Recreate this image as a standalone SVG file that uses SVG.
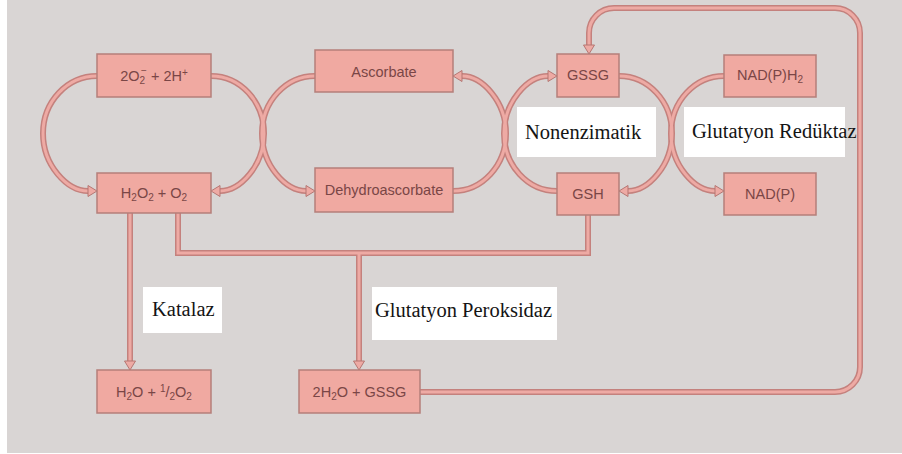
<svg xmlns="http://www.w3.org/2000/svg" width="902" height="454" viewBox="0 0 902 454">
<style>
.box{fill:#f0a9a1;stroke:#b57f7a;stroke-width:1.5}
.bt{font-family:"Liberation Sans",Arial,sans-serif;font-size:14.5px;fill:#7a4646;text-anchor:middle}
.lbl{fill:#ffffff}
.lt{font-family:"Liberation Serif","Times New Roman",serif;font-size:20.5px;fill:#141414}
.outer{fill:none;stroke:#c4817d;stroke-width:6}
.inner{fill:none;stroke:#eeaaa4;stroke-width:3}
.arr{marker-end:url(#ah)}
</style>
<defs>
<marker id="ah" markerUnits="userSpaceOnUse" markerWidth="12" markerHeight="14" viewBox="-1 -7 12 14" refX="0" refY="0" orient="auto" overflow="visible">
<path d="M0,-5.5 L9,0 L0,5.5 Z" fill="#eeaaa4" stroke="#b57773" stroke-width="1"/>
</marker>
</defs>
<rect x="0" y="0" width="902" height="454" fill="#ffffff"/>
<rect x="7" y="0" width="895" height="453" fill="#d9d5d4"/>

<g id="connectors">
<g class="outer">
<path d="M97,76 C67.2,76 43,101.7 43,133.5 C43,165.3 67.2,191 88,191"/>
<path d="M211,76 C240.3,76 264,101.7 264,133.5 C264,165.3 240.3,191 220,191"/>
<path d="M315,76 C285.7,76 262,101.7 262,133.5 C262,165.3 285.7,191 306,191"/>
<path d="M453,191 C482.3,191 506,165.3 506,133.5 C506,101.7 482.3,76 462,76"/>
<path d="M557,191 C527.7,191 504,165.3 504,133.5 C504,101.7 527.7,76 548,76"/>
<path d="M619,76 C648.3,76 672,101.7 672,133.5 C672,165.3 648.3,191 628,191"/>
<path d="M724,76 C694.7,76 671,101.7 671,133.5 C671,165.3 694.7,191 715,191"/>
<path d="M130,213 V361"/>
<path d="M178,213 V253 H588 V215"/>
<path d="M359,253 V361"/>
<path d="M420,392 H835 A25,25 0 0 0 860,367 V33 A25,25 0 0 0 835,8 H614 A25,25 0 0 0 589,33 V45"/>
</g>
<g class="inner">
<path class="arr" d="M97,76 C67.2,76 43,101.7 43,133.5 C43,165.3 67.2,191 88,191"/>
<path class="arr" d="M211,76 C240.3,76 264,101.7 264,133.5 C264,165.3 240.3,191 220,191"/>
<path class="arr" d="M315,76 C285.7,76 262,101.7 262,133.5 C262,165.3 285.7,191 306,191"/>
<path class="arr" d="M453,191 C482.3,191 506,165.3 506,133.5 C506,101.7 482.3,76 462,76"/>
<path class="arr" d="M557,191 C527.7,191 504,165.3 504,133.5 C504,101.7 527.7,76 548,76"/>
<path class="arr" d="M619,76 C648.3,76 672,101.7 672,133.5 C672,165.3 648.3,191 628,191"/>
<path class="arr" d="M724,76 C694.7,76 671,101.7 671,133.5 C671,165.3 694.7,191 715,191"/>
<path class="arr" d="M130,213 V361"/>
<path d="M178,213 V253 H588 V215"/>
<path class="arr" d="M359,253 V361"/>
<path class="arr" d="M420,392 H835 A25,25 0 0 0 860,367 V33 A25,25 0 0 0 835,8 H614 A25,25 0 0 0 589,33 V45"/>
</g>
</g>

<g id="n-superoxide">
<rect class="box" x="97" y="54" width="114" height="43"/>
<text class="bt" x="154" y="81">2O<tspan font-size="10" dy="3">2</tspan><tspan font-size="10" dx="-4" dy="-10">−</tspan><tspan dy="7"> + 2H</tspan><tspan font-size="10" dy="-5">+</tspan></text>
</g>
<g id="n-h2o2">
<rect class="box" x="97" y="173" width="114" height="40"/>
<text class="bt" x="154" y="198">H<tspan font-size="10" dy="3">2</tspan><tspan dy="-3">O</tspan><tspan font-size="10" dy="3">2</tspan><tspan dy="-3"> + O</tspan><tspan font-size="10" dy="3">2</tspan></text>
</g>
<g id="n-ascorbate">
<rect class="box" x="315" y="50" width="138" height="42"/>
<text class="bt" x="384" y="77">Ascorbate</text>
</g>
<g id="n-dehydro">
<rect class="box" x="315" y="168" width="138" height="44"/>
<text class="bt" x="384" y="195">Dehydroascorbate</text>
</g>
<g id="n-gssg">
<rect class="box" x="557" y="54" width="62" height="43"/>
<text class="bt" x="588" y="80">GSSG</text>
</g>
<g id="n-gsh">
<rect class="box" x="557" y="173" width="62" height="42"/>
<text class="bt" x="588" y="199">GSH</text>
</g>
<g id="n-nadph">
<rect class="box" x="724" y="55" width="92" height="42"/>
<text class="bt" x="770" y="80">NAD(P)H<tspan font-size="10" dy="3">2</tspan></text>
</g>
<g id="n-nadp">
<rect class="box" x="724" y="173" width="92" height="42"/>
<text class="bt" x="770" y="199">NAD(P)</text>
</g>
<g id="n-water">
<rect class="box" x="97" y="370" width="114" height="43"/>
<text class="bt" x="154" y="397">H<tspan font-size="10" dy="3">2</tspan><tspan dy="-3">O + </tspan><tspan font-size="10" dy="-5">1</tspan><tspan dy="5">/</tspan><tspan font-size="10" dy="3">2</tspan><tspan dy="-3">O</tspan><tspan font-size="10" dy="3">2</tspan></text>
</g>
<g id="n-water-gssg">
<rect class="box" x="299" y="370" width="121" height="43"/>
<text class="bt" x="359.5" y="397">2H<tspan font-size="10" dy="3">2</tspan><tspan dy="-3">O + GSSG</tspan></text>
</g>

<g id="l-nonenzimatik">
<rect class="lbl" x="517" y="107" width="139" height="50"/>
<text class="lt" x="525" y="139">Nonenzimatik</text>
</g>
<g id="l-reduktaz">
<rect class="lbl" x="684" y="107" width="161" height="50"/>
<text class="lt" x="692" y="138">Glutatyon Redüktaz</text>
</g>
<g id="l-katalaz">
<rect class="lbl" x="143" y="287" width="79" height="46"/>
<text class="lt" x="152" y="316">Katalaz</text>
</g>
<g id="l-peroksidaz">
<rect class="lbl" x="372" y="287" width="185" height="53"/>
<text class="lt" x="375" y="317">Glutatyon Peroksidaz</text>
</g>
</svg>
